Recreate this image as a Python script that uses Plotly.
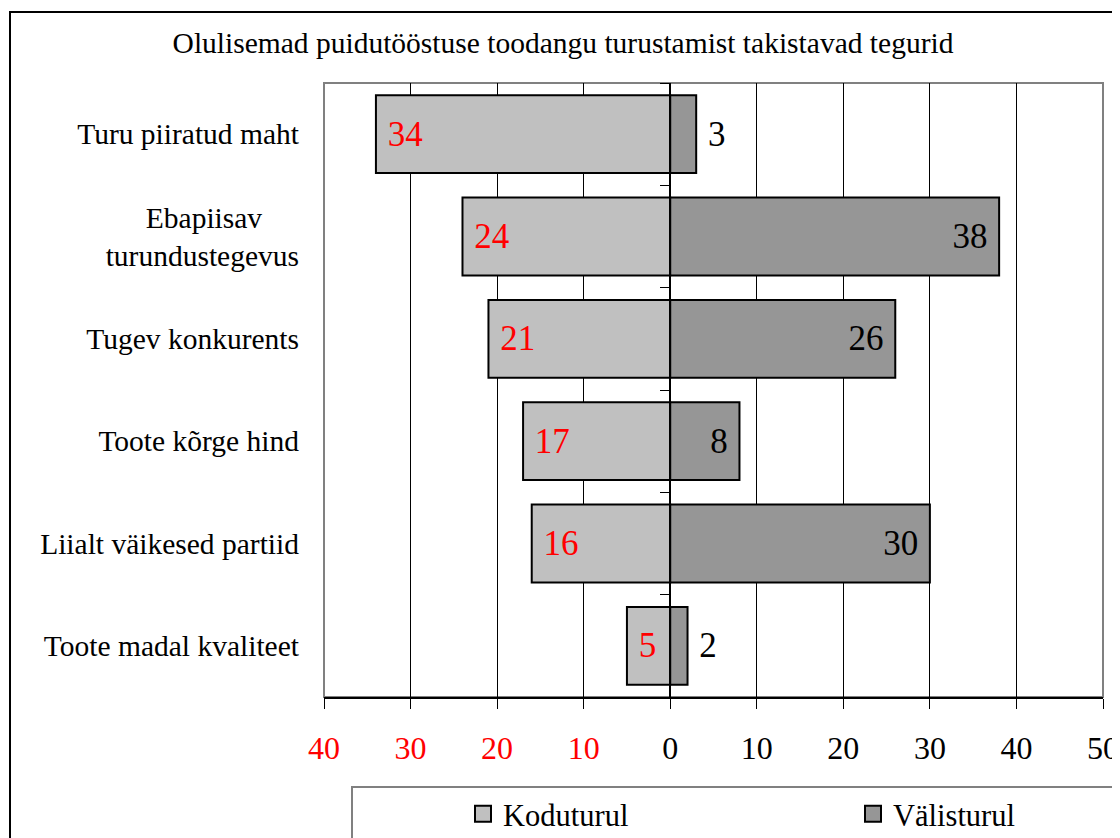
import plotly.graph_objects as go

categories = ["Turu piiratud maht",
              "Ebapiisav\u00a0\u00a0\u00a0\u00a0\u00a0<br>turundustegevus",
              "Tugev konkurents", "Toote kõrge hind",
              "Liialt väikesed partiid", "Toote madal kvaliteet"]
koduturul = [34, 24, 21, 17, 16, 5]
valisturul = [3, 38, 26, 8, 30, 2]
tick_vals = [-40, -30, -20, -10, 0, 10, 20, 30, 40, 50]
tick_text = ["40", "30", "20", "10", "0", "10", "20", "30", "40", "50"]
title_text = "Olulisemad puidutööstuse toodangu turustamist takistavad tegurid"

FONT = "Liberation Serif"
OFF = 8  # page body margin
W, H = 1120 - OFF, 838 - OFF
# plot area in window pixels: x 324..1103, y 83..697
L, R, T, B = 324 - OFF, 1120 - 1103, 83 - OFF, 838 - 697
pw, ph = W - L - R, H - T - B
NB = "\u00a0"
KODU_C, VALIS_C = "#C0C0C0", "#969696"

def px_x(p):
    return (p - OFF - L) / pw

def px_y(p):
    return (H - B - (p - OFF)) / ph

neg_tick_text = [f'<span style="color:red">{t}</span>' if v < 0 else t
                 for v, t in zip(tick_vals, tick_text)]

fig = go.Figure()
fig.add_trace(go.Bar(
    name="Koduturul", y=categories, x=[-v for v in koduturul], orientation="h",
    marker=dict(color=KODU_C, line=dict(color="black", width=2)),
    width=0.76, text=[NB + str(v) for v in koduturul], textposition="inside",
    insidetextanchor="end", textangle=0,
    insidetextfont=dict(family=FONT, size=35, color="red"),
    cliponaxis=False, hoverinfo="skip", showlegend=False,
))
val_pos = ["outside" if v < 5 else "inside" for v in valisturul]
fig.add_trace(go.Bar(
    name="Välisturul", y=categories, x=valisturul, orientation="h", yaxis="y2",
    marker=dict(color=VALIS_C, line=dict(color="black", width=2)),
    width=0.76,
    text=[(NB + str(v)) if p == "outside" else (str(v) + NB) for v, p in zip(valisturul, val_pos)],
    textposition=val_pos,
    insidetextanchor="end", textangle=0,
    insidetextfont=dict(family=FONT, size=35, color="black"),
    outsidetextfont=dict(family=FONT, size=35, color="black"),
    cliponaxis=False, hoverinfo="skip", showlegend=False,
))
# legend entries
fig.add_trace(go.Scatter(
    name="Koduturul", x=[None], y=[None], mode="markers", legend="legend",
    marker=dict(symbol="square", size=20, color=KODU_C, line=dict(color="black", width=2)),
))
fig.add_trace(go.Scatter(
    name="Välisturul", x=[None], y=[None], mode="markers", legend="legend2",
    marker=dict(symbol="square", size=20, color=VALIS_C, line=dict(color="black", width=2)),
))

leg_common = dict(orientation="h", xanchor="left", yanchor="middle", y=px_y(814),
                  bgcolor="rgba(0,0,0,0)", borderwidth=0, itemsizing="trace",
                  font=dict(family=FONT, size=30.5, color="black"))

fig.update_layout(
    width=W, height=H, margin=dict(l=L, r=R, t=T, b=B, autoexpand=False),
    paper_bgcolor="white", plot_bgcolor="white",
    barmode="relative",
    font=dict(family=FONT, size=29.5, color="black"),
    title=dict(text=title_text, x=(563 - OFF) / W, xref="container", xanchor="center",
               y=1 - (43 - OFF) / H, yref="container", yanchor="middle",
               font=dict(family=FONT, size=29.5, color="black")),
    xaxis=dict(range=[-40, 50], tickvals=tick_vals, ticktext=neg_tick_text,
               showgrid=True, gridcolor="black", gridwidth=1,
               showline=True, linecolor="black", linewidth=2,
               ticks="outside", ticklen=10, tickcolor="black", tickwidth=1,
               ticklabelstandoff=12, zeroline=False,
               tickfont=dict(family=FONT, size=32)),
    yaxis=dict(type="category", categoryarray=categories, range=[5.5, -0.5],
               showgrid=False, zeroline=False, showline=False, ticks="",
               ticklabelstandoff=24, tickfont=dict(family=FONT, size=29.5)),
    yaxis2=dict(type="category", categoryarray=categories, range=[5.5, -0.5],
                overlaying="y", anchor="free", position=40 / 90, side="left",
                showgrid=False, zeroline=False, showline=True, linecolor="black",
                linewidth=2, ticks="outside", tickson="boundaries", ticklen=9,
                tickcolor="black", showticklabels=False),
    legend=dict(x=px_x(463), **leg_common),
    legend2=dict(x=px_x(853), **leg_common),
    shapes=[
        dict(type="rect", xref="paper", yref="paper", x0=0, x1=1, y0=0, y1=1,
             line=dict(color="#808080", width=2), layer="below"),
        dict(type="rect", xref="paper", yref="paper", x0=px_x(10), x1=px_x(1200),
             y0=px_y(900), y1=px_y(12), line=dict(color="black", width=2), layer="below"),
        dict(type="rect", xref="paper", yref="paper", x0=px_x(352), x1=px_x(1200),
             y0=px_y(900), y1=px_y(787), line=dict(color="#808080", width=2), layer="below"),
    ],
)

fig.write_html("out.html")
